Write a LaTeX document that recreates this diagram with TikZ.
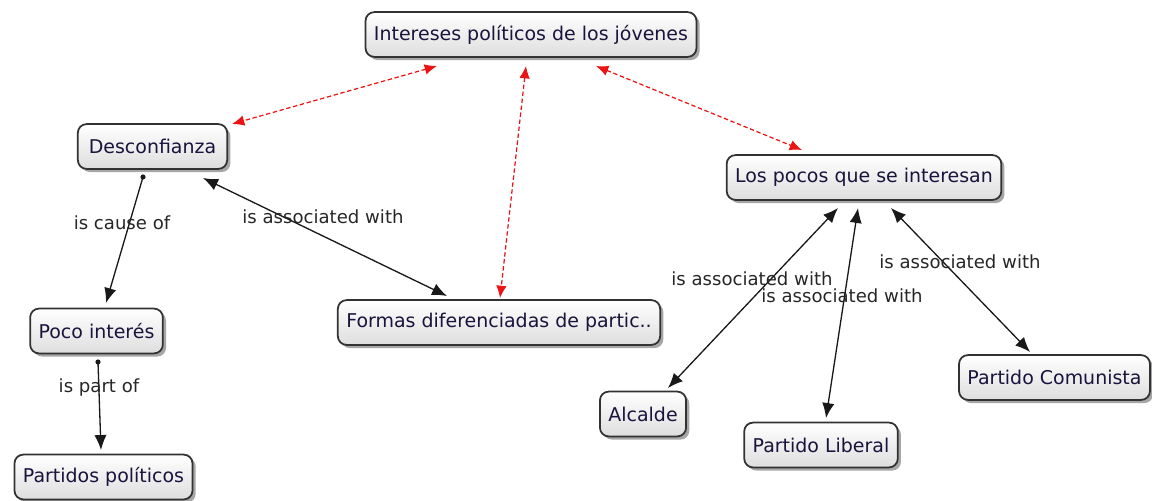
\documentclass[tikz,border=0pt]{standalone}
\usepackage{fontspec}
\setmainfont{DejaVu Sans}
\usepackage{tikz}
\usetikzlibrary{arrows.meta, calc, shadows}
\definecolor{edge}{RGB}{25, 25, 25}
\definecolor{frame}{RGB}{50, 50, 50}
\definecolor{ink}{RGB}{25, 20, 60}
\definecolor{redlink}{RGB}{235, 20, 20}

\tikzset{
  concept/.style={draw=frame, line width=1pt, rounded corners=5pt,
                  top color=white, bottom color=black!13, text=ink,
                  font=\fontsize{10.8}{12}\selectfont,
                  inner xsep=4.8pt, minimum height=25.5pt,
                  drop shadow={shadow xshift=1.8pt, shadow yshift=-1.8pt, opacity=0.7}},
  linkword/.style={text=black!85, font=\fontsize{10.3}{12}\selectfont, inner sep=0pt},
  assoc/.style={draw=edge, line width=0.75pt, {Latex[length=8.5pt, width=7pt]}-{Latex[length=8.5pt, width=7pt]}},
  oneway/.style={draw=edge, line width=0.75pt, -{Latex[length=8.5pt, width=7pt]}},
  crosslink/.style={draw=redlink, line width=0.7pt, dash pattern=on 2.5pt off 1.5pt,
                    {Latex[length=7pt, width=6pt]}-{Latex[length=7pt, width=6pt]}}
}

\begin{document}
\begin{tikzpicture}[x=0.02cm, y=-0.02cm]
  \useasboundingbox (0, 0) rectangle (1152, 500);

  % concepts
  \node[concept] (intereses) at (531, 34.5) {Intereses políticos de los jóvenes};
  \node[concept, minimum width=85pt] (desconf) at (152.5, 146.5) {Desconfianza};
  \node[concept] (pocos)     at (864, 177.5) {Los pocos que se interesan};
  \node[concept] (pocoint)   at (96.5, 331) {Poco interés};
  \node[concept] (formas)    at (499, 322.5) {Formas diferenciadas de partic..};
  \node[concept] (alcalde)   at (643, 414) {Alcalde};
  \node[concept] (liberal)   at (821, 445) {Partido Liberal};
  \node[concept] (comunista) at (1054.5, 377.5) {Partido Comunista};
  \node[concept] (partidos)  at (103.5, 477) {Partidos políticos};

  % cross links
  \draw[crosslink] ($(intereses)+(-94, 31.5)$) -- ($(desconf)+(79.5, -22.5)$);
  \draw[crosslink] ($(intereses)+(-5, 31.5)$) -- ($(formas)+(1, -24.5)$);
  \draw[crosslink] ($(intereses)+(65, 31.5)$) -- ($(pocos)+(-62, -27.5)$);

  % links
  \draw[oneway] ($(desconf)+(-9.5, 30.5)$) coordinate (d1) -- ($(pocoint)+(9.5, -28)$);
  \fill[edge] (d1) circle (2.6);
  \draw[assoc] ($(desconf)+(50.5, 31.5)$) -- ($(formas)+(-52, -26.5)$);
  \draw[oneway] ($(pocoint)+(1.5, 31)$) coordinate (p1) -- ($(partidos)+(-2.5, -27)$);
  \fill[edge] (p1) circle (2.6);
  \draw[assoc] ($(pocos)+(-26, 30.5)$) -- ($(alcalde)+(25, -26)$);
  \draw[assoc] ($(pocos)+(-6, 30.5)$) -- ($(liberal)+(5, -27)$);
  \draw[assoc] ($(pocos)+(27, 30.5)$) -- ($(comunista)+(-24.5, -25.5)$);

  % linking phrases
  \node[linkword] (cause)  at (122, 223) {is cause of};
  \node[linkword] (assoc1) at (323, 217) {is associated with};
  \node[linkword] (part)   at (99, 388) {is part of};
  \node[linkword] (assoc2) at (752, 279) {is associated with};
  \node[linkword] (assoc3) at (842, 296) {is associated with};
  \node[linkword] (assoc4) at (960, 262) {is associated with};

\end{tikzpicture}
\end{document}
